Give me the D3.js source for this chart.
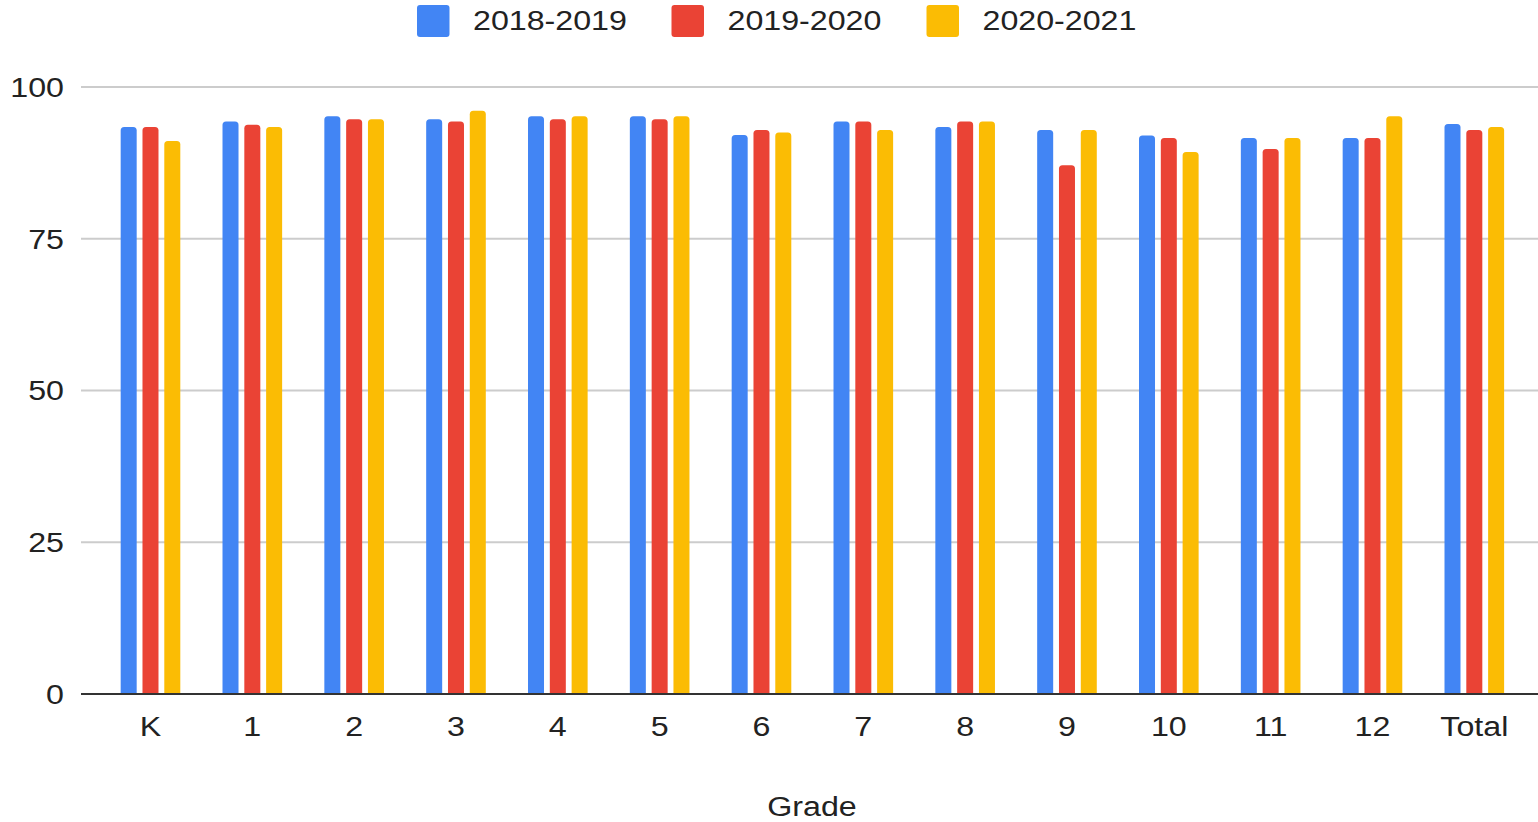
<!DOCTYPE html>
<html>
<head>
<meta charset="utf-8">
<script src="https://cdn.jsdelivr.net/npm/d3@7"></script>
<style>
html,body{margin:0;padding:0;background:#fff;}
svg{display:block;}
text{font-family:"Liberation Sans",Arial,sans-serif;fill:#222;}
</style>
</head>
<body>
<svg id="chart" width="1538" height="822"></svg>
<script>
const categories = ["K","1","2","3","4","5","6","7","8","9","10","11","12","Total"];
const seriesNames = ["2018-2019","2019-2020","2020-2021"];
const s2018 = [93.4,94.3,95.2,94.7,95.2,95.2,92.1,94.3,93.4,92.9,92.0,91.6,91.6,93.9];
const s2019 = [93.4,93.8,94.7,94.3,94.7,94.7,92.9,94.3,94.3,87.1,91.6,89.8,91.6,92.9];
const s2020 = [91.1,93.4,94.7,96.1,95.2,95.2,92.5,92.9,94.3,92.9,89.3,91.6,95.2,93.4];
const yTicks = [0,25,50,75,100];
const colors = ["#4285F4","#EA4335","#FBBC04"];
const xTitle = "Grade";

const seriesValues = [s2018, s2019, s2020];
const svg = d3.select("#chart");
const stretch = 1.15;
const fs = 28;

const y = d3.scaleLinear().domain([0,100]).range([694,87]);
const x0 = d3.scaleBand().domain(categories).range([99.6,1525.2]).paddingInner(0.4145).paddingOuter(0.207);
const x1 = d3.scaleBand().domain(seriesNames).range([0,x0.bandwidth()]).paddingInner(0.266).paddingOuter(0);
const color = d3.scaleOrdinal().domain(seriesNames).range(colors);

// gridlines
svg.append("g").selectAll("line").data(yTicks.filter(t=>t>0)).join("line")
  .attr("x1",81).attr("x2",1538)
  .attr("y1",d=>y(d)).attr("y2",d=>y(d))
  .attr("stroke","#cccccc").attr("stroke-width",2);

// y labels
svg.append("g").selectAll("g").data(yTicks).join("g")
  .attr("transform",d=>`translate(64,${y(d)}) scale(${stretch},1)`)
  .append("text").attr("text-anchor","end").attr("dy","0.35em")
  .attr("font-size",fs).text(d=>d);

// bars with rounded top
function barPath(x,yTop,w,yBase,r){
  r = Math.min(r, w/2, yBase-yTop);
  return `M${x},${yBase}V${yTop+r}Q${x},${yTop} ${x+r},${yTop}H${x+w-r}Q${x+w},${yTop} ${x+w},${yTop+r}V${yBase}Z`;
}
const data = [];
categories.forEach((c,i)=>{
  seriesNames.forEach((s,j)=>{ data.push({cat:c, ser:s, val:seriesValues[j][i]}); });
});
svg.append("g").selectAll("path").data(data).join("path")
  .attr("d",d=>barPath(x0(d.cat)+x1(d.ser), y(d.val), x1.bandwidth(), y(0), 3.5))
  .attr("fill",d=>color(d.ser));

// baseline
svg.append("line").attr("x1",81).attr("x2",1538).attr("y1",y(0)).attr("y2",y(0))
  .attr("stroke","#333").attr("stroke-width",2);

// x labels
svg.append("g").selectAll("g").data(categories).join("g")
  .attr("transform",d=>`translate(${x0(d)+x0.bandwidth()/2},726) scale(${stretch},1)`)
  .append("text").attr("text-anchor","middle").attr("dy","0.35em")
  .attr("font-size",fs).text(d=>d);

// x title
svg.append("g").attr("transform",`translate(812,806) scale(${stretch},1)`)
  .append("text").attr("text-anchor","middle").attr("dy","0.35em")
  .attr("font-size",fs).text(xTitle);

// legend
const legendX = [417,671.5,926.5];
const lg = svg.append("g").selectAll("g").data(seriesNames).join("g")
  .attr("transform",(d,i)=>`translate(${legendX[i]},0)`);
lg.append("rect").attr("x",0).attr("y",5).attr("width",32.5).attr("height",32)
  .attr("rx",3).attr("fill",d=>color(d));
lg.append("g").attr("transform",`translate(56,20) scale(${stretch},1)`)
  .append("text").attr("dy","0.35em").attr("font-size",fs).text(d=>d);
</script>
</body>
</html>
